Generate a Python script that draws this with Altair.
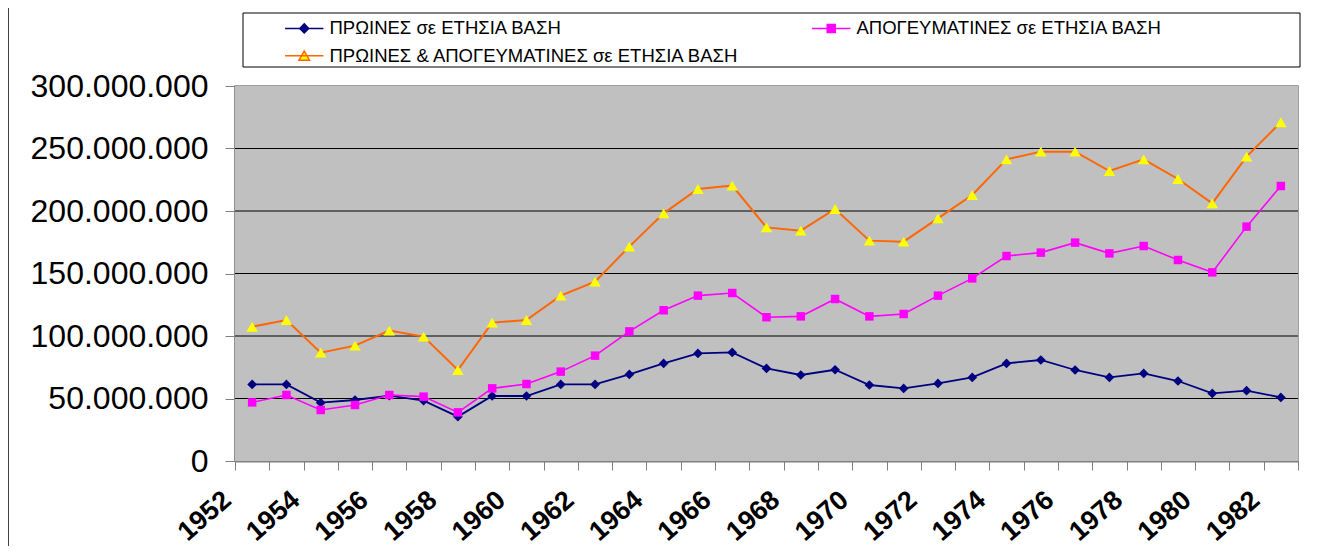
import altair as alt
import pandas as pd

years = [1952, 1953, 1954, 1955, 1956, 1957, 1958, 1959, 1960, 1961,
         1962, 1963, 1964, 1965, 1966, 1967, 1968, 1969, 1970, 1971,
         1972, 1973, 1974, 1975, 1976, 1977, 1978, 1979, 1980, 1981, 1982]

morning = [61300000, 61300000, 46700000, 48800000, 52300000, 48300000, 35500000,
           52000000, 52000000, 61300000, 61300000, 69300000, 78100000, 86100000,
           86900000, 74100000, 68800000, 73000000, 60800000, 58100000, 62100000,
           66900000, 78100000, 80800000, 72800000, 66900000, 70100000, 64000000,
           54100000, 56300000, 50900000]

afternoon = [46900000, 52800000, 40800000, 44800000, 52800000, 51500000, 38900000,
             58100000, 61600000, 71500000, 84300000, 103700000, 120600000, 132300000,
             134400000, 115000000, 115700000, 129600000, 115700000, 117600000, 132300000,
             146100000, 164000000, 166700000, 174700000, 166100000, 172000000, 160800000,
             150900000, 187500000, 220000000]

total = [107400000, 112800000, 86700000, 92300000, 104300000, 99500000, 72800000,
         110700000, 112800000, 132300000, 143500000, 171500000, 198100000, 217600000,
         220300000, 186900000, 184300000, 201600000, 176300000, 175500000, 194100000,
         212800000, 241300000, 247500000, 247500000, 232000000, 241300000, 225600000,
         206100000, 243500000, 271000000]

series_names = ["ΠΡΩΙΝΕΣ σε ΕΤΗΣΙΑ ΒΑΣΗ",
                "ΑΠΟΓΕΥΜΑΤΙΝΕΣ σε ΕΤΗΣΙΑ ΒΑΣΗ",
                "ΠΡΩΙΝΕΣ & ΑΠΟΓΕΥΜΑΤΙΝΕΣ σε ΕΤΗΣΙΑ ΒΑΣΗ"]

y_tick_values = [0, 50000000, 100000000, 150000000, 200000000, 250000000, 300000000]
x_label_years = [1952, 1954, 1956, 1958, 1960, 1962, 1964, 1966, 1968,
                 1970, 1972, 1974, 1976, 1978, 1980, 1982]

# styles
line_colors = ["#000080", "#FF00FF", "#FF6600"]
line_widths = [1.8, 1.6, 2.0]
marker_fills = ["#000080", "#FF00FF", "#FFFF00"]
marker_shapes = ["diamond", "square", "triangle-up"]
marker_sizes = [95, 72, 130]
legend_shapes = [
    "M-2.4,0L2.4,0M0,-0.56L0.56,0L0,0.56L-0.56,0Z",
    "M-2.4,0L2.4,0M-0.5,-0.5L0.5,-0.5L0.5,0.5L-0.5,0.5Z",
    "M-2.4,0L2.4,0M0,-0.6L0.66,0.54L-0.66,0.54Z",
]

rows = []
for name, vals in zip(series_names, [morning, afternoon, total]):
    for yr, v in zip(years, vals):
        rows.append({"year": yr, "value": v, "series": name})
df = pd.DataFrame(rows)
grid_df = pd.DataFrame({"value": y_tick_values[1:-1]})

FONT = "Liberation Sans"
W, H = 1063, 375

tick_positions = [y - 0.5 for y in years] + [years[-1] + 0.5]
label_expr = ("indexof([%s], datum.value + 0.5) >= 0 ? format(datum.value + 0.5, 'd') : ''"
              % ",".join(str(y) for y in x_label_years))

x_enc = alt.X("year:Q",
              scale=alt.Scale(domain=[years[0] - 0.5, years[-1] + 0.5], nice=False, zero=False),
              axis=alt.Axis(values=tick_positions, labelExpr=label_expr, labelAngle=-41,
                            labelAlign="right", labelBaseline="middle", labelFont=FONT,
                            labelFontSize=27, labelFontWeight="bold", labelColor="black",
                            labelPadding=26, labelOffset=-8, labelFlush=False,
                            labelOverlap=False, tickSize=9, tickColor="#808080",
                            domainColor="#808080", domainWidth=2, grid=False, title=None))
y_enc = alt.Y("value:Q",
              scale=alt.Scale(domain=[0, 300000000], nice=False),
              axis=alt.Axis(values=y_tick_values,
                            labelExpr="replace(replace(format(datum.value, ','), ',', '.'), ',', '.')",
                            labelFont=FONT, labelFontSize=32, labelColor="black",
                            labelPadding=17, tickSize=10, tickColor="#808080",
                            domainColor="#808080", domainWidth=2, grid=False, title=None))

one = pd.DataFrame({"a": [0]})
plot_bg = alt.Chart(one).mark_rect(fill="#C0C0C0").encode(
    x=alt.value(0), x2=alt.value(W), y=alt.value(0), y2=alt.value(H))
gridlines = alt.Chart(grid_df).mark_rule(color="black", strokeWidth=1).encode(y=y_enc)
legend_box = alt.Chart(one).mark_rect(fill="white", stroke="black", strokeWidth=1).encode(
    x=alt.value(8), x2=alt.value(1065), y=alt.value(-73), y2=alt.value(-19))
frame_line = alt.Chart(one).mark_rule(color="#404040", strokeWidth=2).encode(
    x=alt.value(-227), y=alt.value(-80), y2=alt.value(470))

base = alt.Chart(df)
series_layers = []
for i, name in enumerate(series_names):
    sub = base.transform_filter(alt.datum.series == name)
    series_layers.append(
        sub.mark_line(color=line_colors[i], strokeWidth=line_widths[i]).encode(x=x_enc, y=y_enc))
    series_layers.append(
        sub.mark_point(filled=True, shape=marker_shapes[i], size=marker_sizes[i],
                       fill=marker_fills[i], opacity=1, strokeWidth=0).encode(x=x_enc, y=y_enc))

leg = alt.Legend(title=None, orient="none", legendX=60, legendY=-67, columns=2,
                 direction="horizontal", columnPadding=69, rowPadding=8.6,
                 labelFont=FONT, labelFontSize=18.5, labelColor="black", labelOffset=16,
                 labelLimit=1000, symbolSize=256, symbolStrokeWidth=1.5, symbolOpacity=1,
                 padding=0)
legend_layer = alt.Chart(df).transform_filter("datum.value < 0").mark_point(
    filled=True, opacity=1, strokeWidth=1.5).encode(
    shape=alt.Shape("series:N", scale=alt.Scale(domain=series_names, range=legend_shapes), legend=leg),
    fill=alt.Fill("series:N", scale=alt.Scale(domain=series_names, range=marker_fills), legend=leg),
    stroke=alt.Stroke("series:N", scale=alt.Scale(domain=series_names, range=line_colors), legend=leg),
)

chart = alt.layer(plot_bg, gridlines, legend_box, frame_line, *series_layers, legend_layer).properties(
    width=W, height=H,
    padding={"left": 227, "top": 78, "right": 10, "bottom": 85},
    autosize=alt.AutoSizeParams(type="none"),
).configure_view(fill="#C0C0C0", stroke="#808080", strokeWidth=1.5)

chart.save("out.html", embed_options={"renderer": "svg", "actions": False})
